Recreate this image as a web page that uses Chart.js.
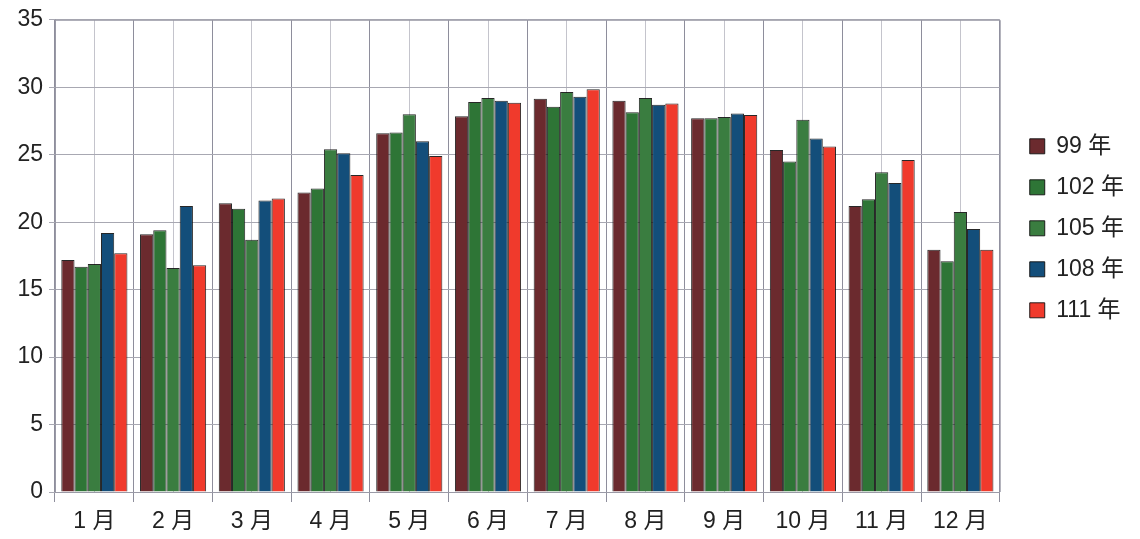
<!DOCTYPE html>
<html>
<head>
<meta charset="utf-8">
<script src="https://cdn.jsdelivr.net/npm/chart.js@4"></script>
<style>
  html, body { margin: 0; padding: 0; background: #fff; }
  #wrap { width: 1140px; height: 539px; }
</style>
</head>
<body>
<div id="wrap"><canvas id="grafico"></canvas></div>
<script>
// --- Dados ---
const meses = ['1 月', '2 月', '3 月', '4 月', '5 月', '6 月', '7 月', '8 月', '9 月', '10 月', '11 月', '12 月'];
const anos = ['99 年', '102 年', '105 年', '108 年', '111 年'];

const ano99  = [17.2, 19.1, 21.4, 22.2, 26.6, 27.85, 29.15, 29.0, 27.7, 25.35, 21.2, 17.95];
const ano102 = [16.7, 19.4, 21.0, 22.5, 26.65, 28.9, 28.55, 28.15, 27.7, 24.5, 21.7, 17.1];
const ano105 = [16.9, 16.6, 18.7, 25.4, 28.0, 29.2, 29.65, 29.2, 27.8, 27.6, 23.7, 20.75];
const ano108 = [19.2, 21.2, 21.6, 25.1, 26.0, 29.0, 29.3, 28.7, 28.05, 26.2, 22.9, 19.5];
const ano111 = [17.7, 16.8, 21.75, 23.5, 24.9, 28.85, 29.85, 28.8, 27.95, 25.6, 24.6, 17.95];

const cores = ['#6b2a2e', '#2e7536', '#3a7d40', '#134e7a', '#f03a2c'];
const series = [ano99, ano102, ano105, ano108, ano111];

const fonte = "'Liberation Sans', 'Noto Sans CJK TC', sans-serif";

// --- Gráfico ---
const grafico = new Chart(document.getElementById('grafico'), {
  type: 'bar',
  data: {
    labels: meses,
    datasets: series.map((valores, i) => ({
      label: anos[i],
      data: valores,
      backgroundColor: cores[i],
      borderColor: 'rgba(15,15,15,0.9)',
      borderWidth: 1,
      categoryPercentage: 0.84,
      barPercentage: 1.0,
      xAxisID: 'x'
    }))
  },
  options: {
    responsive: true,
    maintainAspectRatio: false,
    animation: false,
    layout: { padding: { top: 16, right: 18, left: 0, bottom: 0 } },
    plugins: {
      tooltip: { enabled: false },
      legend: {
        position: 'right',
        align: 'start',
        title: { display: true, text: ' ', padding: { top: 96, bottom: 0 }, font: { size: 4 } },
        labels: {
          boxWidth: 15,
          boxHeight: 15,
          padding: 18,
          color: '#222',
          font: { family: fonte, size: 23 }
        }
      }
    },
    scales: {
      x: {
        afterFit(scale) { scale.height = 47; },
        grid: { color: '#8e8e9c', offset: true, tickLength: 10, drawTicks: true },
        border: { color: '#9a9aa6' },
        ticks: { color: '#222', font: { family: fonte, size: 23 }, padding: 6 }
      },
      x2: {
        type: 'category',
        labels: meses,
        position: 'bottom',
        offset: true,
        display: true,
        afterFit(scale) { scale.height = 0; },
        grid: { color: '#c4c4cc', offset: false, drawTicks: false },
        border: { display: false },
        ticks: { display: false }
      },
      y: {
        min: 0,
        max: 35,
        afterFit(scale) { scale.width = 55; },
        ticks: { stepSize: 5, color: '#222', font: { family: fonte, size: 23 }, padding: 6 },
        grid: { color: '#a8a8b2', tickLength: 6 },
        border: { color: '#9a9aa6' }
      }
    }
  },
  plugins: [{
    // empurra a legenda um pouco para a direita sem mexer na área do gráfico
    id: 'legendaDireita',
    afterLayout(chart) {
      chart.legend.left += 12;
      chart.legend.right += 12;
    }
  }, {
    id: 'moldura',
    afterDraw(chart) {
      const { ctx, chartArea } = chart;
      ctx.save();
      ctx.strokeStyle = '#9a9aa6';
      ctx.lineWidth = 1;
      ctx.beginPath();
      ctx.moveTo(chartArea.left, chartArea.top + 0.5);
      ctx.lineTo(chartArea.right + 0.5, chartArea.top + 0.5);
      ctx.lineTo(chartArea.right + 0.5, chartArea.bottom);
      ctx.stroke();
      ctx.restore();
    }
  }]
});
</script>
</body>
</html>
